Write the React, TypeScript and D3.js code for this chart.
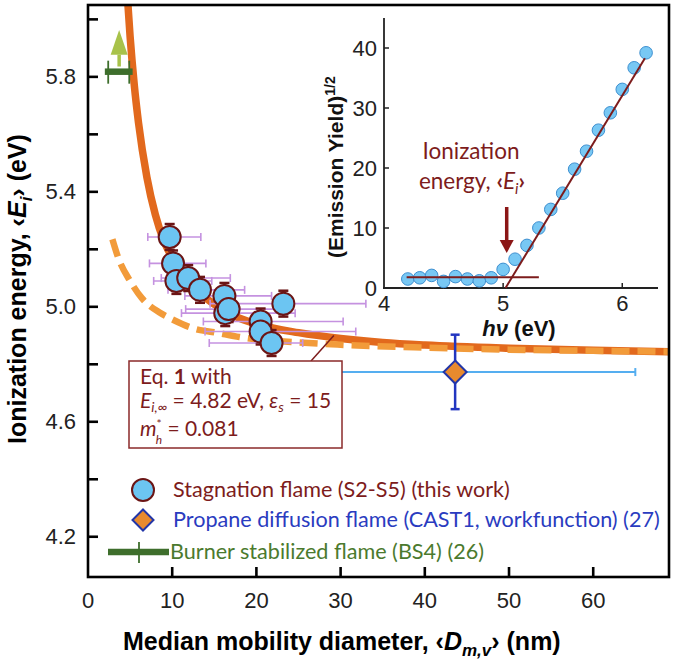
import React from "react";
import * as d3 from "d3";

// ---- main panel data ----
const yTicks = [4.2, 4.4, 4.6, 4.8, 5.0, 5.2, 5.4, 5.6, 5.8, 6.0];
const yLabels = [4.2, 4.6, 5.0, 5.4, 5.8];
const xTicks = [10, 20, 30, 40, 50, 60];
const xLabels = [0, 10, 20, 30, 40, 50, 60];

// Eq. 1 curve (solid)
const solidD = [4.7, 5, 5.5, 6, 7, 8, 9, 10, 12, 14, 16, 18, 20, 25, 30, 35, 40, 50, 60, 69];
const solidE = [6.07, 5.94, 5.77, 5.64, 5.45, 5.32, 5.23, 5.17, 5.08, 5.03, 4.99, 4.96, 4.94, 4.91, 4.89, 4.876, 4.867, 4.856, 4.849, 4.844];

// dashed curve
const dashD = [2.9, 3.6, 5.0, 6.4, 8.5, 10.1, 12.5, 15.3, 18, 25, 30, 40, 50, 60, 69];
const dashE = [5.235, 5.17, 5.09, 5.03, 4.98, 4.955, 4.925, 4.91, 4.895, 4.876, 4.868, 4.858, 4.851, 4.847, 4.844];

// stagnation flame points
const stagD = [9.7, 10.1, 10.5, 11.9, 13.3, 16.2, 16.3, 16.7, 23.2, 20.5, 20.5, 21.8];
const stagE = [5.243, 5.151, 5.09, 5.1, 5.059, 5.038, 4.978, 4.992, 5.011, 4.949, 4.914, 4.874];
const stagDlo = [7.1, 7.3, 7.8, 8.7, 9.5, 11.5, 11.1, 11.6, 14.5, 13.7, 13.9, 14.4];
const stagDhi = [13.4, 14.0, 14.7, 16.9, 18.6, 21.8, 24.6, 23.0, 33.0, 30.3, 31.8, 25.5];
const stagEerr = 0.045;

// propane diffusion flame (CAST1)
const castD = 43.6, castE = 4.773;
const castDlo = 29.1, castDhi = 65.0;
const castElo = 4.644, castEhi = 4.903;

// burner stabilized flame (BS4)
const bsE = 5.818;
const bsDlo = 2.0, bsDhi = 5.3;
const bsCaps = [2.4, 4.9];
const bsArrowD = 3.7, bsArrowBase = 5.877, bsArrowTip = 5.963, bsStemLo = 5.836;

// ---- inset data ----
const hv = [4.2, 4.3, 4.4, 4.5, 4.6, 4.7, 4.8, 4.9, 5.0, 5.1, 5.2, 5.3, 5.4, 5.5, 5.6, 5.7, 5.8, 5.9, 6.0, 6.1, 6.2];
const yieldSqrt = [1.5, 1.7, 2.1, 1.1, 1.9, 1.5, 1.2, 1.7, 3.1, 4.8, 7.1, 10.0, 13.1, 15.8, 19.8, 22.8, 26.3, 29.2, 33.1, 36.7, 39.2];
const baseFit = [[4.19, 1.8], [5.3, 1.8]];
const slopeFit = [[5.02, 0], [6.19, 38.3]];
const insetYTicks = [0, 10, 20, 30, 40];
const insetXTicks = [4, 5, 6];

const SANS = "'Liberation Sans', Arial, sans-serif";
const CAL = "Lato, 'Open Sans', sans-serif";
const DARKRED = "#7d1c1c";

export default function App() {
  const x = d3.scaleLinear().domain([0, 69]).range([88, 669]);
  const y = d3.scaleLinear().domain([4.06, 6.05]).range([577, 5]);

  const ix = d3.scaleLinear().domain([4, 6.3]).range([384, 658]);
  const iy = d3.scaleLinear().domain([0, 45]).range([288, 18]);

  const curve = d3
    .line<number[]>()
    .x((d) => x(d[0]))
    .y((d) => y(d[1]))
    .curve(d3.curveMonotoneX);

  const solidPath = curve(solidD.map((d, i) => [d, solidE[i]]));
  const dashPath = curve(dashD.map((d, i) => [d, dashE[i]]));

  const fitLine = d3
    .line<number[]>()
    .x((d) => ix(d[0]))
    .y((d) => iy(d[1]));

  const capH = 4;

  // x error bars of the stagnation points
  const xErr = stagD.map((d, i) => {
    const yy = y(stagE[i]);
    return (
      <g key={"xe" + i} stroke="#c592e0" strokeWidth={1.6}>
        <line x1={x(stagDlo[i])} x2={x(stagDhi[i])} y1={yy} y2={yy} />
        <line x1={x(stagDlo[i])} x2={x(stagDlo[i])} y1={yy - capH} y2={yy + capH} />
        <line x1={x(stagDhi[i])} x2={x(stagDhi[i])} y1={yy - capH} y2={yy + capH} />
      </g>
    );
  });

  const yErr = stagD.map((d, i) => {
    const xx = x(d);
    return (
      <g key={"ye" + i} stroke="#6b1515" strokeWidth={2.5}>
        <line x1={xx} x2={xx} y1={y(stagE[i] + stagEerr)} y2={y(stagE[i] - stagEerr)} />
        <line x1={xx - 5} x2={xx + 5} y1={y(stagE[i] + stagEerr)} y2={y(stagE[i] + stagEerr)} />
        <line x1={xx - 5} x2={xx + 5} y1={y(stagE[i] - stagEerr)} y2={y(stagE[i] - stagEerr)} />
      </g>
    );
  });

  const circles = stagD.map((d, i) => (
    <circle
      key={"c" + i}
      cx={x(d)}
      cy={y(stagE[i])}
      r={11}
      fill="#6cc5f2"
      stroke="#6b1515"
      strokeWidth={2}
    />
  ));

  const diamond = (cx: number, cy: number, s: number) =>
    `M${cx},${cy - s}L${cx + s},${cy}L${cx},${cy + s}L${cx - s},${cy}Z`;

  const insetPts = hv.map((h, i) => (
    <circle
      key={"ip" + i}
      cx={ix(h)}
      cy={iy(yieldSqrt[i])}
      r={6.3}
      fill="#78c8f4"
      stroke="#3d8fd0"
      strokeWidth={1}
    />
  ));

  return (
    <svg
      width={677}
      height={661}
      style={{ position: "absolute", left: 0, top: 0, background: "#fff" }}
    >
      <defs>
        <clipPath id="plotClip">
          <rect x={88} y={5} width={581} height={572} />
        </clipPath>
      </defs>

      {/* curves */}
      <g clipPath="url(#plotClip)">
        <path d={solidPath || ""} fill="none" stroke="#e2691d" strokeWidth={7.5} />
        <path
          d={dashPath || ""}
          fill="none"
          stroke="#f29b3a"
          strokeWidth={6.5}
          strokeDasharray="18 8"
        />
      </g>

      {/* leader line to the box */}
      <line x1={311} y1={361} x2={x(29.2)} y2={y(4.9)} stroke={DARKRED} strokeWidth={1.5} />

      {/* stagnation flame */}
      <g>{xErr}</g>
      <g>{yErr}</g>
      <g>{circles}</g>

      {/* CAST1 */}
      <g>
        <line x1={x(castDlo)} x2={x(castDhi)} y1={y(castE)} y2={y(castE)} stroke="#55aef0" strokeWidth={2} />
        <line x1={x(castDlo)} x2={x(castDlo)} y1={y(castE) - 4} y2={y(castE) + 4} stroke="#55aef0" strokeWidth={2} />
        <line x1={x(castDhi)} x2={x(castDhi)} y1={y(castE) - 4} y2={y(castE) + 4} stroke="#55aef0" strokeWidth={2} />
        <line x1={x(castD)} x2={x(castD)} y1={y(castEhi)} y2={y(castElo)} stroke="#2236c0" strokeWidth={2.5} />
        <line x1={x(castD) - 4.5} x2={x(castD) + 4.5} y1={y(castEhi)} y2={y(castEhi)} stroke="#2236c0" strokeWidth={2.5} />
        <line x1={x(castD) - 4.5} x2={x(castD) + 4.5} y1={y(castElo)} y2={y(castElo)} stroke="#2236c0" strokeWidth={2.5} />
        <path d={diamond(x(castD), y(castE), 11.5)} fill="#e88a2e" stroke="#2236a8" strokeWidth={2} />
      </g>

      {/* BS4 */}
      <g>
        <path
          d={`M${x(bsArrowD) - 8.5},${y(bsArrowBase)}L${x(bsArrowD) + 8.5},${y(bsArrowBase)}L${x(bsArrowD)},${y(bsArrowTip)}Z`}
          fill="#a8c24a"
        />
        <line x1={x(bsArrowD)} x2={x(bsArrowD)} y1={y(bsArrowBase)} y2={y(bsStemLo)} stroke="#a8c24a" strokeWidth={3.5} />
        <line x1={x(bsDlo)} x2={x(bsDhi)} y1={y(bsE)} y2={y(bsE)} stroke="#3e6e2c" strokeWidth={6.5} />
        {bsCaps.map((c) => (
          <line key={c} x1={x(c)} x2={x(c)} y1={y(bsE) - 11} y2={y(bsE) + 12} stroke="#3e6e2c" strokeWidth={1.8} />
        ))}
      </g>

      {/* frame */}
      <rect x={88} y={5} width={581} height={572} fill="none" stroke="#000" strokeWidth={2.6} />
      {yTicks.map((t) => (
        <line key={"yt" + t} x1={88} x2={98} y1={y(t)} y2={y(t)} stroke="#000" strokeWidth={2.6} />
      ))}
      {xTicks.map((t) => (
        <line key={"xt" + t} x1={x(t)} x2={x(t)} y1={577} y2={567} stroke="#000" strokeWidth={2.6} />
      ))}
      {yLabels.map((t) => (
        <text key={"yl" + t} x={76} y={y(t) + 7.5} textAnchor="end" fontFamily={SANS} fontSize={22} fill="#222">
          {t.toFixed(1)}
        </text>
      ))}
      {xLabels.map((t) => (
        <text key={"xl" + t} x={x(t)} y={608} textAnchor="middle" fontFamily={SANS} fontSize={22} fill="#222">
          {t}
        </text>
      ))}

      {/* axis titles */}
      <text x={123} y={650} fontFamily={SANS} fontSize={25} fontWeight="bold" fill="#000">
        Median mobility diameter, ‹<tspan fontStyle="italic">D</tspan>
        <tspan fontStyle="italic" fontSize={17} dy={6}>m,v</tspan>
        <tspan dy={-6}>› (nm)</tspan>
      </text>
      <text
        transform="translate(26,444) rotate(-90)"
        fontFamily={SANS}
        fontSize={25}
        fontWeight="bold"
        fill="#000"
      >
        Ionization energy, ‹<tspan fontStyle="italic">E</tspan>
        <tspan fontStyle="italic" fontSize={17} dy={6}>i</tspan>
        <tspan dy={-6}>› (eV)</tspan>
      </text>

      {/* annotation box */}
      <rect x={129} y={361} width={213} height={87} fill="#fff" stroke="#8b2a2a" strokeWidth={1.5} />
      <g fontFamily={CAL} fontSize={21} fill={DARKRED}>
        <text x={140} y={384}>
          Eq. <tspan fontWeight="bold">1</tspan> with
        </text>
        <text x={140} y={408}>
          <tspan fontStyle="italic">E</tspan>
          <tspan fontStyle="italic" fontSize={14} dy={4}>i,∞</tspan>
          <tspan dy={-4}> = 4.82 eV, </tspan>
          <tspan fontStyle="italic">ε</tspan>
          <tspan fontStyle="italic" fontSize={14} dy={4}>s</tspan>
          <tspan dy={-4}> = 15</tspan>
        </text>
        <text x={140} y={436}>
          <tspan fontStyle="italic">m</tspan>
          <tspan fontSize={12} dy={-8}>*</tspan>
          <tspan fontStyle="italic" fontSize={12} dx={-6} dy={16}>h</tspan>
          <tspan dy={-8}> = 0.081</tspan>
        </text>
      </g>

      {/* legend */}
      <circle cx={143} cy={490} r={11} fill="#6cc5f2" stroke="#6b1515" strokeWidth={2} />
      <text x={173} y={497} fontFamily={CAL} fontSize={21.6} fill="#7d1c1c">
        Stagnation flame (S2-S5) (this work)
      </text>
      <path d={diamond(143, 520, 10.5)} fill="#e88a2e" stroke="#2236a8" strokeWidth={2} />
      <text x={173} y={527} fontFamily={CAL} fontSize={21.6} fill="#2a3cc0">
        Propane diffusion flame (CAST1, workfunction) (27)
      </text>
      <line x1={108} x2={169} y1={552} y2={552} stroke="#3e6e2c" strokeWidth={6.5} />
      <line x1={139} x2={139} y1={542} y2={563} stroke="#3e6e2c" strokeWidth={1.8} />
      <text x={170} y={559} fontFamily={CAL} fontSize={21.6} fill="#4b7a2e">
        Burner stabilized flame (BS4) (26)
      </text>

      {/* ---- inset ---- */}
      <g>
        <line x1={384} x2={384} y1={18} y2={289} stroke="#222" strokeWidth={1.8} />
        <line x1={383} x2={658} y1={288} y2={288} stroke="#222" strokeWidth={1.8} />
        {insetXTicks.slice(1).map((t) => (
          <line key={"ixt" + t} x1={ix(t)} x2={ix(t)} y1={288} y2={283} stroke="#222" strokeWidth={1.5} />
        ))}
        {insetYTicks.slice(1).map((t) => (
          <line key={"iyt" + t} x1={384} x2={389} y1={iy(t)} y2={iy(t)} stroke="#222" strokeWidth={1.5} />
        ))}
        {insetYTicks.map((t) => (
          <text key={"iyl" + t} x={377} y={iy(t) + 7.5} textAnchor="end" fontFamily={SANS} fontSize={22} fill="#222">
            {t}
          </text>
        ))}
        {insetXTicks.map((t) => (
          <text key={"ixl" + t} x={ix(t)} y={311} textAnchor="middle" fontFamily={SANS} fontSize={22} fill="#222">
            {t}
          </text>
        ))}
        <text x={519} y={336} textAnchor="middle" fontFamily={SANS} fontSize={22} fontWeight="bold" fill="#111">
          <tspan fontStyle="italic">hν</tspan> (eV)
        </text>
        <text
          transform="translate(343,258) rotate(-90)"
          fontFamily={SANS}
          fontSize={21}
          fontWeight="bold"
          fill="#111"
        >
          (Emission Yield)
          <tspan fontSize={14} dy={-8}>1/2</tspan>
        </text>

        <g>{insetPts}</g>
        <path d={fitLine(baseFit) || ""} stroke={DARKRED} strokeWidth={2} fill="none" />
        <path d={fitLine(slopeFit) || ""} stroke={DARKRED} strokeWidth={2} fill="none" />

        <text x={471} y={159} textAnchor="middle" fontFamily={CAL} fontSize={22.5} fill={DARKRED}>
          Ionization
        </text>
        <text x={472} y={189} textAnchor="middle" fontFamily={CAL} fontSize={22.5} fill={DARKRED}>
          energy, <tspan fontWeight="bold">‹</tspan>
          <tspan fontStyle="italic">E</tspan>
          <tspan fontStyle="italic" fontSize={15} dy={5}>i</tspan>
          <tspan dy={-5} fontWeight="bold">›</tspan>
        </text>
        <line x1={ix(5.03)} x2={ix(5.03)} y1={207} y2={242} stroke="#8b1616" strokeWidth={3.5} />
        <path
          d={`M${ix(5.03) - 7},${240}L${ix(5.03) + 7},${240}L${ix(5.03)},${253}Z`}
          fill="#8b1616"
        />
      </g>
    </svg>
  );
}
